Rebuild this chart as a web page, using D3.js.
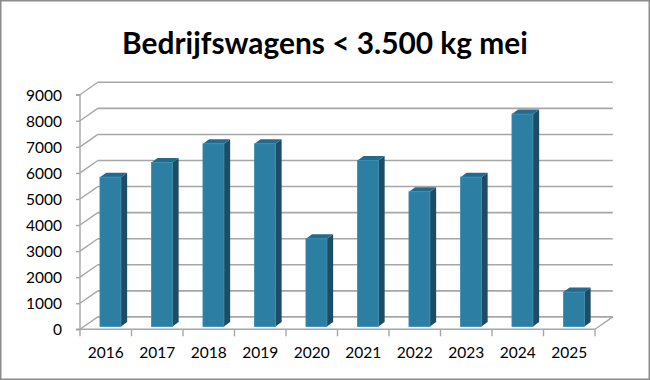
<!DOCTYPE html>
<html><head><meta charset="utf-8">
<script src="https://d3js.org/d3.v7.min.js"></script>
<style>html,body{margin:0;padding:0;background:#fff}svg{display:block}</style>
</head><body>
<svg id="c" width="650" height="380"></svg>
<script>
const title = "Bedrijfswagens < 3.500 kg mei";
const years = ["2016","2017","2018","2019","2020","2021","2022","2023","2024","2025"];
const values = [5730, 6290, 7010, 7010, 3370, 6370, 5170, 5730, 8150, 1320];
const yTicks = [0,1000,2000,3000,4000,5000,6000,7000,8000,9000];

const svg = d3.select("#c");
const W = 650, H = 380;
const font = "Lato, 'Open Sans', sans-serif";

// frame
svg.append("rect").attr("x",0.75).attr("y",0.75).attr("width",W-1.5).attr("height",H-1.5)
  .attr("fill","#fff").attr("stroke","#8c8c8c").attr("stroke-width",1.5);

// title
const t = svg.append("text").attr("x",325).attr("y",54).attr("text-anchor","middle")
  .attr("font-family",font).attr("font-weight","bold").attr("font-size",30).attr("fill","#000").text(title);
const tw = t.node().getComputedTextLength();
t.attr("font-size", 30*406/tw);

const x = d3.scaleBand().domain(years).range([80,595]).paddingInner(0).paddingOuter(0);
const y = d3.scaleLinear().domain([0,9000]).range([329.3,94.7]);
const back = {x:17.8, y:-12.4};
const z0 = {x:4.7, y:-2.8};
const zd = {x:6.2, y:-4.5};
const barW = 21;
const grid = "#a6a6a6";

const g = svg.append("g");
// back wall gridlines
g.selectAll("line.bg").data(yTicks).join("line")
  .attr("x1",80+back.x).attr("x2",595+back.x)
  .attr("y1",d=>y(d)+back.y).attr("y2",d=>y(d)+back.y)
  .attr("stroke",grid).attr("stroke-width",1.6);
// side wall diagonals
g.selectAll("line.sd").data(yTicks).join("line")
  .attr("x1",80).attr("x2",80+back.x)
  .attr("y1",d=>y(d)).attr("y2",d=>y(d)+back.y)
  .attr("stroke",grid).attr("stroke-width",1.4);
// floor right diagonal
g.append("line").attr("x1",595).attr("y1",y(0)).attr("x2",595+back.x).attr("y2",y(0)+back.y)
  .attr("stroke",grid).attr("stroke-width",1.4);

// y axis
const yAx = svg.append("g").attr("transform","translate(80,0)")
  .call(d3.axisLeft(y).tickValues(yTicks).tickSize(4).tickPadding(14).tickFormat(d3.format("d")));
yAx.select(".domain").attr("stroke",grid).attr("stroke-width",1.4).attr("d",`M-4,${y(9000)}H0V${y(0)}H-4`);
yAx.selectAll(".tick line").attr("stroke",grid).attr("stroke-width",1.4);
yAx.selectAll("text").attr("font-family",font).attr("font-size",15.5).attr("fill","#000").attr("dy","0.36em");

// x axis
const xAx = svg.append("g").attr("transform",`translate(0,${y(0)})`)
  .call(d3.axisBottom(x).tickSize(0).tickPadding(18));
xAx.select(".domain").attr("stroke",grid).attr("stroke-width",1.4).attr("d","M80,0H595");
xAx.selectAll("text").attr("font-family",font).attr("font-size",15.5).attr("fill","#000");
xAx.selectAll("line.bt").data(d3.range(years.length+1)).join("line")
  .attr("class","bt")
  .attr("x1",i=>80+i*x.bandwidth()).attr("x2",i=>80+i*x.bandwidth())
  .attr("y1",0).attr("y2",7).attr("stroke",grid).attr("stroke-width",1.4);

// bars
const data = years.map((yr,i)=>({yr, v:values[i]}));
const bars = svg.append("g").selectAll("g").data(data).join("g");
const fx = d => x(d.yr) + x.bandwidth()/2 - barW/2 + z0.x;
const fyTop = d => y(d.v) + z0.y;
const fyBot = d => y(0) + z0.y;
// side face
bars.append("path").attr("fill","#1c4d65")
  .attr("d",d=>{const x1=fx(d)+barW, t=fyTop(d), b=fyBot(d);
    return `M${x1},${t}L${x1+zd.x},${t+zd.y}L${x1+zd.x},${b+zd.y}L${x1},${b}Z`;});
// top face
bars.append("path").attr("fill","#236a8c")
  .attr("d",d=>{const x0=fx(d), t=fyTop(d);
    return `M${x0},${t}L${x0+zd.x},${t+zd.y}L${x0+barW+zd.x},${t+zd.y}L${x0+barW},${t}Z`;});
// front face
bars.append("rect").attr("fill","#2c7fa3").attr("stroke","#3a8db0").attr("stroke-width",0.8)
  .attr("x",fx).attr("y",fyTop).attr("width",barW).attr("height",d=>fyBot(d)-fyTop(d));
</script>
</body></html>
